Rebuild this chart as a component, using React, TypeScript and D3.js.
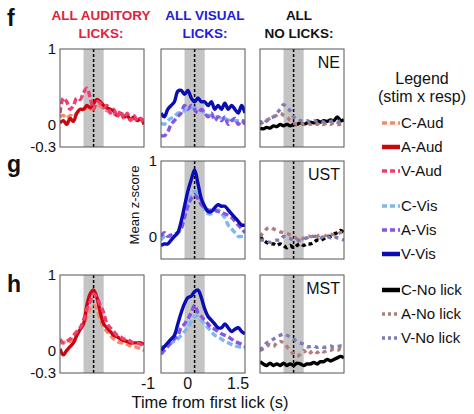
import React from "react";
import * as d3 from "d3";

// time axis (s from first lick)
const time = [-1.0, -0.9, -0.8, -0.7, -0.6, -0.5, -0.4, -0.3, -0.2, -0.1, 0.0, 0.1, 0.2, 0.3, 0.4, 0.5, 0.6, 0.7, 0.8, 0.9, 1.0, 1.1, 1.2, 1.3, 1.4, 1.5];
const timeTicks = [-1, 0, 1.5];
const yTicks = [1, 0, -0.3];

// NE
const neCAud = [0.1, 0.12, 0.08, 0.12, 0.1, 0.15, 0.18, 0.2, 0.22, 0.2, 0.22, 0.25, 0.24, 0.2, 0.18, 0.16, 0.14, 0.12, 0.12, 0.1, 0.1, 0.08, 0.08, 0.06, 0.06, 0.05];
const neAAud = [0.02, 0.05, 0.0, 0.08, 0.04, 0.15, 0.2, 0.2, 0.25, 0.22, 0.28, 0.33, 0.3, 0.25, 0.22, 0.2, 0.18, 0.12, 0.15, 0.1, 0.12, 0.06, 0.1, 0.05, 0.08, 0.0];
const neVAud = [0.15, 0.35, 0.3, 0.2, 0.25, 0.35, 0.33, 0.42, 0.48, 0.35, 0.2, 0.3, 0.28, 0.22, 0.25, 0.15, 0.2, 0.1, 0.18, 0.08, 0.15, 0.05, 0.12, 0.05, 0.08, 0.03];
const neCVis = [0.02, 0.0, 0.05, 0.08, 0.1, 0.15, 0.15, 0.18, 0.2, 0.22, 0.22, 0.2, 0.18, 0.15, 0.12, 0.12, 0.1, 0.1, 0.08, 0.08, 0.06, 0.06, 0.05, 0.05, 0.05, 0.05];
const neAVis = [-0.15, -0.15, -0.1, 0.0, 0.05, 0.1, 0.15, 0.25, 0.2, 0.25, 0.2, 0.15, 0.2, 0.15, 0.1, 0.15, 0.05, 0.1, 0.05, 0.1, 0.0, 0.05, 0.08, 0.0, 0.05, 0.0];
const neVVis = [0.15, 0.1, 0.2, 0.25, 0.3, 0.44, 0.45, 0.4, 0.45, 0.35, 0.3, 0.35, 0.3, 0.3, 0.25, 0.3, 0.2, 0.25, 0.2, 0.28, 0.2, 0.25, 0.2, 0.15, 0.25, 0.15];
const neCNo = [-0.05, -0.06, -0.04, -0.05, -0.02, -0.03, 0.0, -0.02, 0.0, -0.02, 0.0, 0.0, 0.02, 0.0, 0.02, 0.03, 0.02, 0.05, 0.03, 0.05, 0.04, 0.06, 0.05, 0.1, 0.05, 0.06];
const neANo = [0.0, 0.03, 0.05, 0.08, 0.1, 0.12, 0.15, 0.12, 0.1, 0.05, 0.02, 0.0, 0.02, 0.0, 0.02, 0.0, 0.02, 0.0, 0.02, 0.0, 0.02, 0.0, 0.02, 0.0, 0.0, 0.0];
const neVNo = [0.05, 0.0, 0.05, 0.08, 0.1, 0.15, 0.2, 0.26, 0.22, 0.18, 0.1, 0.06, 0.05, 0.04, 0.05, 0.03, 0.05, 0.04, 0.05, 0.03, 0.05, 0.04, 0.05, 0.03, 0.05, 0.05];

// UST
const ustCVis = [-0.05, 0.0, 0.0, 0.0, 0.02, 0.05, 0.12, 0.3, 0.45, 0.55, 0.6, 0.55, 0.45, 0.35, 0.3, 0.3, 0.32, 0.35, 0.3, 0.25, 0.15, 0.1, 0.05, 0.0, 0.0, 0.0];
const ustAVis = [0.0, 0.05, 0.0, 0.02, 0.03, 0.05, 0.1, 0.25, 0.4, 0.5, 0.55, 0.5, 0.42, 0.38, 0.35, 0.35, 0.35, 0.33, 0.32, 0.3, 0.28, 0.25, 0.2, 0.15, 0.1, 0.05];
const ustVVis = [-0.12, -0.1, -0.1, -0.05, 0.0, 0.05, 0.2, 0.4, 0.6, 0.75, 0.88, 0.7, 0.5, 0.4, 0.33, 0.33, 0.38, 0.42, 0.4, 0.4, 0.35, 0.3, 0.25, 0.2, 0.15, 0.15];
const ustCNo = [0.0, -0.05, -0.08, -0.1, -0.1, -0.12, -0.1, -0.12, -0.15, -0.12, -0.15, -0.12, -0.1, -0.12, -0.1, -0.1, -0.08, -0.05, -0.05, -0.03, 0.0, 0.0, 0.03, 0.05, 0.08, 0.05];
const ustANo = [0.0, 0.05, 0.1, 0.12, 0.1, 0.08, 0.06, 0.05, 0.04, 0.02, 0.0, -0.03, -0.05, -0.02, 0.0, 0.0, -0.02, 0.0, 0.02, 0.0, 0.02, 0.03, 0.02, 0.03, 0.05, 0.03];
const ustVNo = [-0.05, -0.05, -0.06, -0.08, -0.06, -0.05, -0.05, 0.0, -0.02, -0.03, -0.05, -0.05, -0.05, -0.03, -0.02, 0.0, 0.0, 0.0, -0.02, 0.0, 0.0, -0.02, 0.0, -0.02, -0.03, -0.05];

// MST
const mstCAud = [0.1, 0.1, 0.12, 0.12, 0.15, 0.2, 0.28, 0.35, 0.45, 0.55, 0.6, 0.55, 0.4, 0.3, 0.25, 0.2, 0.15, 0.12, 0.1, 0.1, 0.08, 0.06, 0.05, 0.04, 0.02, 0.0];
const mstAAud = [0.02, -0.06, 0.0, 0.05, 0.1, 0.2, 0.28, 0.35, 0.6, 0.75, 0.8, 0.7, 0.5, 0.35, 0.3, 0.25, 0.2, 0.18, 0.15, 0.13, 0.12, 0.1, 0.1, 0.1, 0.1, 0.08];
const mstVAud = [0.15, 0.1, 0.12, 0.15, 0.2, 0.25, 0.3, 0.4, 0.55, 0.65, 0.75, 0.7, 0.6, 0.5, 0.35, 0.3, 0.25, 0.2, 0.18, 0.15, 0.15, 0.12, 0.1, 0.1, 0.08, 0.05];
const mstCVis = [0.05, 0.05, 0.08, 0.1, 0.12, 0.15, 0.2, 0.25, 0.3, 0.38, 0.45, 0.45, 0.4, 0.35, 0.3, 0.25, 0.2, 0.18, 0.15, 0.12, 0.1, 0.08, 0.06, 0.05, 0.04, 0.03];
const mstAVis = [-0.05, 0.0, 0.05, 0.1, 0.15, 0.2, 0.3, 0.35, 0.42, 0.5, 0.6, 0.5, 0.45, 0.4, 0.35, 0.3, 0.28, 0.25, 0.22, 0.2, 0.18, 0.15, 0.12, 0.1, 0.08, 0.05];
const mstVVis = [0.0, 0.05, 0.1, 0.15, 0.2, 0.35, 0.5, 0.62, 0.7, 0.72, 0.78, 0.8, 0.7, 0.55, 0.45, 0.4, 0.35, 0.3, 0.3, 0.35, 0.3, 0.25, 0.28, 0.3, 0.25, 0.22];
const mstCNo = [-0.15, -0.18, -0.2, -0.17, -0.2, -0.18, -0.2, -0.17, -0.2, -0.18, -0.2, -0.17, -0.18, -0.2, -0.18, -0.18, -0.16, -0.18, -0.15, -0.15, -0.12, -0.14, -0.12, -0.1, -0.08, -0.1];
const mstANo = [0.0, 0.02, 0.05, 0.08, 0.05, 0.1, 0.12, 0.1, 0.05, 0.0, -0.05, -0.08, -0.05, 0.0, -0.05, -0.03, 0.0, -0.03, 0.0, -0.02, 0.0, 0.0, 0.02, 0.0, 0.02, 0.0];
const mstVNo = [0.0, 0.05, 0.1, 0.12, 0.15, 0.18, 0.2, 0.22, 0.2, 0.18, 0.15, 0.12, 0.1, 0.08, 0.05, 0.05, 0.06, 0.04, 0.05, 0.04, 0.05, 0.06, 0.04, 0.05, 0.06, 0.05];

const seriesStyle: Record<string, { color: string; dash: string | null }> = {
  "C-Aud": { color: "#f58a6c", dash: "6,3" },
  "A-Aud": { color: "#c8080e", dash: null },
  "V-Aud": { color: "#ee3f72", dash: "6,3" },
  "C-Vis": { color: "#7cb6f4", dash: "6,3" },
  "A-Vis": { color: "#8555e6", dash: "6,3" },
  "V-Vis": { color: "#0a0cb4", dash: null },
  "C-No lick": { color: "#000000", dash: null },
  "A-No lick": { color: "#b47c7c", dash: "4,4" },
  "V-No lick": { color: "#7c7cb8", dash: "4,4" },
};
const legendGroups = [
  ["C-Aud", "A-Aud", "V-Aud"],
  ["C-Vis", "A-Vis", "V-Vis"],
  ["C-No lick", "A-No lick", "V-No lick"],
];

type Panel = { row: number; col: number; lines: [string, number[]][]; tag?: string; cDash?: string };

const panels: Panel[] = [
  { row: 0, col: 0, lines: [["C-Aud", neCAud], ["A-Aud", neAAud], ["V-Aud", neVAud]] },
  { row: 0, col: 1, lines: [["C-Vis", neCVis], ["A-Vis", neAVis], ["V-Vis", neVVis]] },
  { row: 0, col: 2, tag: "NE", lines: [["C-No lick", neCNo], ["A-No lick", neANo], ["V-No lick", neVNo]] },
  { row: 1, col: 1, lines: [["C-Vis", ustCVis], ["A-Vis", ustAVis], ["V-Vis", ustVVis]] },
  { row: 1, col: 2, tag: "UST", cDash: "4,3", lines: [["C-No lick", ustCNo], ["A-No lick", ustANo], ["V-No lick", ustVNo]] },
  { row: 2, col: 0, lines: [["C-Aud", mstCAud], ["A-Aud", mstAAud], ["V-Aud", mstVAud]] },
  { row: 2, col: 1, lines: [["C-Vis", mstCVis], ["A-Vis", mstAVis], ["V-Vis", mstVVis]] },
  { row: 2, col: 2, tag: "MST", lines: [["C-No lick", mstCNo], ["A-No lick", mstANo], ["V-No lick", mstVNo]] },
];

const colX = [60, 161, 260];
const rowY = [49, 161, 275];
const pw = 84;
const ph = 98;
const font = "Liberation Sans, Arial, sans-serif";

const Cell = ({ p }: { p: Panel }) => {
  const x = d3.scaleLinear().domain([-1, 1.5]).range([0, pw]);
  const y = d3.scaleLinear().domain([-0.3, 1]).range([ph, 0]);
  const line = d3
    .line<number>()
    .x((_, i) => x(time[i]))
    .y((d) => y(d))
    .curve(d3.curveCatmullRom);
  const clipId = `clip-${p.row}-${p.col}`;
  return (
    <g transform={`translate(${colX[p.col]},${rowY[p.row]})`}>
      <clipPath id={clipId}>
        <rect width={pw} height={ph} />
      </clipPath>
      <rect x={x(-0.3)} y={0} width={x(0.3) - x(-0.3)} height={ph} fill="#c4c4c4" />
      <line x1={x(0)} x2={x(0)} y1={0} y2={ph} stroke="#000" strokeWidth={1.5} strokeDasharray="3,2" />
      <g clipPath={`url(#${clipId})`}>
        {p.lines.map(([name, vals]) => {
          const st = seriesStyle[name];
          const dash = name.startsWith("C-No") && p.cDash ? p.cDash : st.dash;
          return (
            <path
              key={name}
              d={line(vals) || ""}
              fill="none"
              stroke={st.color}
              strokeWidth={3.4}
              strokeDasharray={dash || undefined}
            />
          );
        })}
      </g>
      <rect width={pw} height={ph} fill="none" stroke="#555" strokeWidth={1} />
      {p.tag && (
        <text x={pw - 4} y={19} textAnchor="end" fontSize={16} fontFamily={font} fill="#111">
          {p.tag}
        </text>
      )}
      {(p.col === 0 || (p.row === 1 && p.col === 1)) &&
        yTicks
          .filter((t) => !(p.row === 1 && t < 0))
          .map((t) => (
            <text key={t} x={-4} y={y(t)} dy="0.35em" textAnchor="end" fontSize={15} fontFamily={font} fill="#111">
              {t}
            </text>
          ))}
      {p.row === 2 && p.col === 1 &&
        timeTicks.map((t) => (
          <text key={t} x={x(t) - (t === -1 ? 13 : 7)} y={ph + 16} textAnchor="middle" fontSize={16} fontFamily={font} fill="#111">
            {t}
          </text>
        ))}
    </g>
  );
};

export default function App() {
  let ly = 123;
  const legendRows: { name: string; y: number }[] = [];
  legendGroups.forEach((g, gi) => {
    g.forEach((name) => {
      legendRows.push({ name, y: ly });
      ly += 24;
    });
    ly += gi === 0 ? 11 : 12;
  });

  return (
    <svg width={474} height={414} style={{ position: "absolute", left: 0, top: 0 }}>
      <rect width={474} height={414} fill="#fff" />
      <g fontFamily={font} fontWeight="bold" fontSize={13.5} textAnchor="middle">
        <text x={101} y={20} fill="#e0233a">ALL AUDITORY</text>
        <text x={101} y={38} fill="#e0233a">LICKS:</text>
        <text x={205} y={20} fill="#2020d8">ALL VISUAL</text>
        <text x={205} y={38} fill="#2020d8">LICKS:</text>
        <text x={299} y={20} fill="#111">ALL</text>
        <text x={299} y={38} fill="#111">NO LICKS:</text>
      </g>
      <g fontFamily={font} fontWeight="bold" fontSize={23} fill="#111">
        <text x={7} y={26}>f</text>
        <text x={7} y={172}>g</text>
        <text x={7} y={292}>h</text>
      </g>
      {panels.map((p) => (
        <Cell key={`${p.row}-${p.col}`} p={p} />
      ))}
      <text
        transform="translate(139,205) rotate(-90)"
        textAnchor="middle"
        fontSize={13}
        fontFamily={font}
        fill="#111"
      >
        Mean z-score
      </text>
      <text x={210} y={408} textAnchor="middle" fontSize={16.5} fontFamily={font} fill="#111">
        Time from first lick (s)
      </text>
      <g fontFamily={font} fill="#111">
        <text x={422} y={84} textAnchor="middle" fontSize={16}>Legend</text>
        <text x={422} y={102} textAnchor="middle" fontSize={16}>(stim x resp)</text>
        {legendRows.map((r) => {
          const st = seriesStyle[r.name];
          return (
            <g key={r.name} transform={`translate(0,${r.y})`}>
              <line
                x1={382}
                x2={400}
                y1={0}
                y2={0}
                stroke={st.color}
                strokeWidth={st.dash ? 3.5 : 4.5}
                strokeDasharray={st.dash ? (st.dash === "4,4" ? "3,3" : "5,3") : undefined}
              />
              <text x={401} y={0} dy="0.35em" fontSize={15}>
                {r.name}
              </text>
            </g>
          );
        })}
      </g>
    </svg>
  );
}
